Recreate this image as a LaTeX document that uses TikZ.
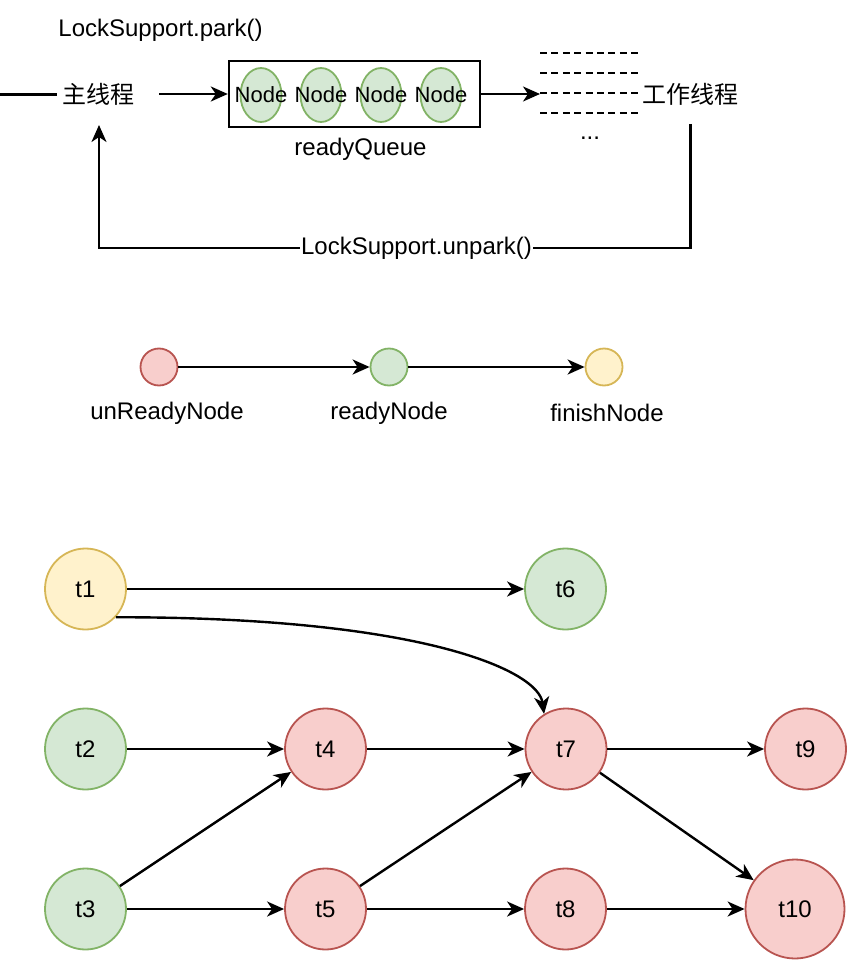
\documentclass[tikz,border=0pt]{standalone}
\usepackage{fontspec}
\setmainfont{Liberation Sans}
\newfontfamily\cjk{Noto Sans CJK SC}
\usetikzlibrary{arrows.meta,shapes.geometric}

\definecolor{redfill}{HTML}{F8CECC}
\definecolor{redline}{HTML}{B85450}
\definecolor{greenfill}{HTML}{D5E8D4}
\definecolor{greenline}{HTML}{82B366}
\definecolor{yellowfill}{HTML}{FFF2CC}
\definecolor{yellowline}{HTML}{D6B656}

\tikzset{
  lbl/.style={inner sep=0pt, font=\fontsize{24}{28}\selectfont},
  cjklbl/.style={inner sep=0pt, font=\cjk\fontsize{24}{28}\selectfont},
  conn/.style={line width=2.4pt, -{Stealth[length=17pt,width=15pt,inset=5pt]}},
  plainline/.style={line width=2.4pt},
  qnode/.style={ellipse, minimum width=41pt, minimum height=54pt, inner sep=0pt,
    draw=greenline, fill=greenfill, line width=1.8pt},
  dot/.style={circle, minimum size=37pt, inner sep=0pt, line width=1.8pt},
  task/.style={circle, minimum size=81pt, inner sep=0pt, line width=1.8pt,
    font=\fontsize{24}{28}\selectfont},
  red/.style={draw=redline, fill=redfill},
  green/.style={draw=greenline, fill=greenfill},
  yellow/.style={draw=yellowline, fill=yellowfill},
  dashline/.style={line width=1.8pt, dash pattern=on 7pt off 4.4pt},
}

\begin{document}
\begin{tikzpicture}[x=1pt, y=-1pt]
\useasboundingbox (0,0) rectangle (848,960);

% ---------- main thread / ready queue / worker threads ----------
\node[lbl] (park) at (160.5,30) {LockSupport.park()};
\coordinate (mainin) at (0,94.5);
\coordinate (mainend) at (57,94.5);
\node[cjklbl] (main) at (98.5,94) {主线程};
\draw[plainline] (mainin) -- (mainend);

\node[draw, line width=2.4pt, minimum width=251pt, minimum height=66pt,
      inner sep=0pt] (queue) at (354.5,94) {};
\foreach \i/\x in {1/261,2/321,3/381,4/441}
  \node[qnode] (q\i) at (\x,95) {};
\foreach \i/\x in {1/261,2/321,3/381,4/441}
  \node[inner sep=0pt, font=\fontsize{22}{26}\selectfont] (ql\i) at (\x,95) {Node};
\node[lbl] (rq) at (360.5,149) {readyQueue};

\coordinate (qin) at (159,94);
\draw[conn] (qin) -- (queue.west |- qin);

\foreach \i/\y in {1/53,2/73,3/93,4/113}
  \draw[dashline] (540,\y) coordinate (ds\i) -- (642,\y) coordinate (de\i);
\draw[conn] (queue.east |- 0,94) -- (ds3 |- 0,94);

\node[cjklbl] (worker) at (690.5,94) {工作线程};
\node[lbl] (dots) at (590,138) {...};

% feedback path back to the main thread
\coordinate (wb) at (690.5,124);
\coordinate (wc) at (690.5,248);
\coordinate (mc) at (99,248);
\coordinate (mt) at (99,125);
\draw[conn] (wb) -- (wc) -- (mc) -- (mt);
\node[lbl, fill=white, inner sep=1.5pt] (unpark) at (416.5,248) {LockSupport.unpark()};

% ---------- legend ----------
\node[dot, red] (lr) at (159,367) {};
\node[dot, green] (lg) at (389,367) {};
\node[dot, yellow] (ly) at (604,367) {};
\draw[conn] (lr) -- (lg);
\draw[conn] (lg) -- (ly);
\node[lbl] (lrt) at (167,413) {unReadyNode};
\node[lbl] (lgt) at (389,413) {readyNode};
\node[lbl] (lyt) at (607,413) {finishNode};

% ---------- task graph ----------
\node[task, yellow] (t1) at (85.5,589) {t1};
\node[task, green] (t6) at (565.5,589) {t6};
\node[task, green] (t2) at (85.5,749) {t2};
\node[task, red] (t4) at (325.5,749) {t4};
\node[task, red] (t7) at (566,749) {t7};
\node[task, red] (t9) at (805.5,749) {t9};
\node[task, green] (t3) at (85.5,909) {t3};
\node[task, red] (t5) at (325.5,909) {t5};
\node[task, red] (t8) at (565.5,909) {t8};
\node[task, red, minimum size=99pt] (t10) at (795,909) {t10};

\draw[conn] (t1) -- (t6);
\draw[conn] (t1.-43) .. controls (420,617) and (538,670) .. (t7.122);
\draw[conn] (t2) -- (t4);
\draw[conn] (t4) -- (t7);
\draw[conn] (t7) -- (t9);
\draw[conn] (t3) -- (t4);
\draw[conn] (t3) -- (t5);
\draw[conn] (t5) -- (t7);
\draw[conn] (t5) -- (t8);
\draw[conn] (t8) -- (t10);
\draw[conn] (t7) -- (t10);
\end{tikzpicture}
\end{document}
